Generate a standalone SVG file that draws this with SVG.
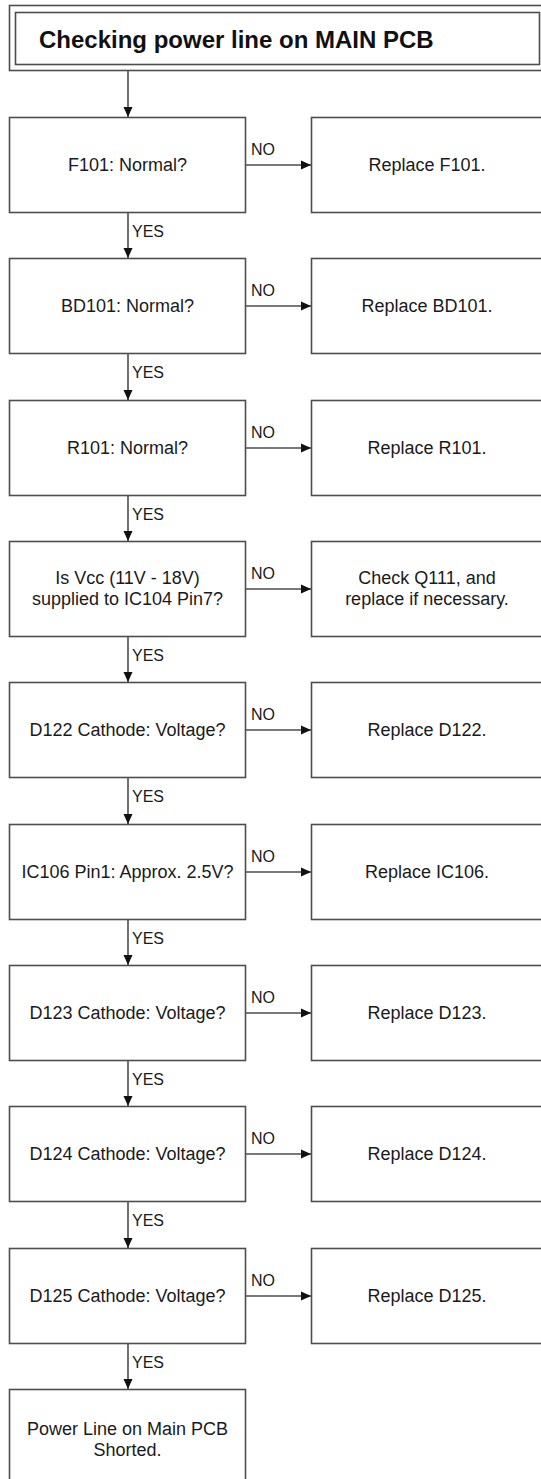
<svg xmlns="http://www.w3.org/2000/svg" width="541" height="1479" viewBox="0 0 541 1479">
<style>
.box{fill:#fff;stroke:#4d4d4d;stroke-width:1.6}
.t{font-family:"Liberation Sans",Arial,sans-serif;font-size:18px;fill:#1a1a1a;text-anchor:middle}
.title{font-family:"Liberation Sans",Arial,sans-serif;font-size:24px;font-weight:bold;fill:#111}
.lbl{font-family:"Liberation Sans",Arial,sans-serif;font-size:16px;fill:#1a1a1a}
.ln{stroke:#4d4d4d;stroke-width:1.6;fill:none}
</style>
<defs>
<marker id="ah" viewBox="0 0 10 10" refX="10" refY="5" markerWidth="10" markerHeight="10" markerUnits="userSpaceOnUse" orient="auto">
<path d="M0,0.5 L10,5 L0,9.5 Z" fill="#111"/>
</marker>
</defs>
<rect width="541" height="1479" fill="#fff"/>

<g id="title">
<rect class="box" x="9.5" y="5.5" width="545" height="65"/>
<rect class="box" x="15.5" y="12.5" width="524" height="52"/>
<text class="title" x="39" y="48">Checking power line on MAIN PCB</text>
</g>

<g id="n1"><rect class="box" x="9.5" y="117.5" width="236" height="95"/><text class="t" x="127.5" y="171">F101: Normal?</text></g>
<g id="r1"><rect class="box" x="311.5" y="117.5" width="240" height="95"/><text class="t" x="427" y="171">Replace F101.</text></g>

<g id="n2"><rect class="box" x="9.5" y="258.5" width="236" height="95"/><text class="t" x="127.5" y="312">BD101: Normal?</text></g>
<g id="r2"><rect class="box" x="311.5" y="258.5" width="240" height="95"/><text class="t" x="427" y="312">Replace BD101.</text></g>

<g id="n3"><rect class="box" x="9.5" y="400.5" width="236" height="95"/><text class="t" x="127.5" y="454">R101: Normal?</text></g>
<g id="r3"><rect class="box" x="311.5" y="400.5" width="240" height="95"/><text class="t" x="427" y="454">Replace R101.</text></g>

<g id="n4"><rect class="box" x="9.5" y="541.5" width="236" height="95"/><text class="t" x="127.5" y="584">Is Vcc (11V - 18V)</text><text class="t" x="127.5" y="605">supplied to IC104 Pin7?</text></g>
<g id="r4"><rect class="box" x="311.5" y="541.5" width="240" height="95"/><text class="t" x="427" y="584">Check Q111, and</text><text class="t" x="427" y="605">replace if necessary.</text></g>

<g id="n5"><rect class="box" x="9.5" y="682.5" width="236" height="95"/><text class="t" x="127.5" y="736">D122 Cathode: Voltage?</text></g>
<g id="r5"><rect class="box" x="311.5" y="682.5" width="240" height="95"/><text class="t" x="427" y="736">Replace D122.</text></g>

<g id="n6"><rect class="box" x="9.5" y="824.5" width="236" height="95"/><text class="t" x="127.5" y="878">IC106 Pin1: Approx. 2.5V?</text></g>
<g id="r6"><rect class="box" x="311.5" y="824.5" width="240" height="95"/><text class="t" x="427" y="878">Replace IC106.</text></g>

<g id="n7"><rect class="box" x="9.5" y="965.5" width="236" height="95"/><text class="t" x="127.5" y="1019">D123 Cathode: Voltage?</text></g>
<g id="r7"><rect class="box" x="311.5" y="965.5" width="240" height="95"/><text class="t" x="427" y="1019">Replace D123.</text></g>

<g id="n8"><rect class="box" x="9.5" y="1106.5" width="236" height="95"/><text class="t" x="127.5" y="1160">D124 Cathode: Voltage?</text></g>
<g id="r8"><rect class="box" x="311.5" y="1106.5" width="240" height="95"/><text class="t" x="427" y="1160">Replace D124.</text></g>

<g id="n9"><rect class="box" x="9.5" y="1248.5" width="236" height="95"/><text class="t" x="127.5" y="1302">D125 Cathode: Voltage?</text></g>
<g id="r9"><rect class="box" x="311.5" y="1248.5" width="240" height="95"/><text class="t" x="427" y="1302">Replace D125.</text></g>

<g id="n10"><rect class="box" x="9.5" y="1389.5" width="236" height="100"/><text class="t" x="127.5" y="1435">Power Line on Main PCB</text><text class="t" x="127.5" y="1456">Shorted.</text></g>

<g id="connectors">
<line class="ln" x1="128" y1="71" x2="128" y2="117" marker-end="url(#ah)"/>
<line class="ln" x1="245.5" y1="165" x2="311" y2="165" marker-end="url(#ah)"/>
<line class="ln" x1="128" y1="213" x2="128" y2="258" marker-end="url(#ah)"/>
<line class="ln" x1="245.5" y1="306" x2="311" y2="306" marker-end="url(#ah)"/>
<line class="ln" x1="128" y1="354" x2="128" y2="400" marker-end="url(#ah)"/>
<line class="ln" x1="245.5" y1="448" x2="311" y2="448" marker-end="url(#ah)"/>
<line class="ln" x1="128" y1="496" x2="128" y2="541" marker-end="url(#ah)"/>
<line class="ln" x1="245.5" y1="589" x2="311" y2="589" marker-end="url(#ah)"/>
<line class="ln" x1="128" y1="637" x2="128" y2="682" marker-end="url(#ah)"/>
<line class="ln" x1="245.5" y1="730" x2="311" y2="730" marker-end="url(#ah)"/>
<line class="ln" x1="128" y1="778" x2="128" y2="824" marker-end="url(#ah)"/>
<line class="ln" x1="245.5" y1="872" x2="311" y2="872" marker-end="url(#ah)"/>
<line class="ln" x1="128" y1="920" x2="128" y2="965" marker-end="url(#ah)"/>
<line class="ln" x1="245.5" y1="1013" x2="311" y2="1013" marker-end="url(#ah)"/>
<line class="ln" x1="128" y1="1061" x2="128" y2="1106" marker-end="url(#ah)"/>
<line class="ln" x1="245.5" y1="1154" x2="311" y2="1154" marker-end="url(#ah)"/>
<line class="ln" x1="128" y1="1202" x2="128" y2="1248" marker-end="url(#ah)"/>
<line class="ln" x1="245.5" y1="1296" x2="311" y2="1296" marker-end="url(#ah)"/>
<line class="ln" x1="128" y1="1344" x2="128" y2="1389" marker-end="url(#ah)"/>
<text class="lbl" x="251" y="155">NO</text>
<text class="lbl" x="251" y="296">NO</text>
<text class="lbl" x="251" y="438">NO</text>
<text class="lbl" x="251" y="579">NO</text>
<text class="lbl" x="251" y="720">NO</text>
<text class="lbl" x="251" y="862">NO</text>
<text class="lbl" x="251" y="1003">NO</text>
<text class="lbl" x="251" y="1144">NO</text>
<text class="lbl" x="251" y="1286">NO</text>
<text class="lbl" x="132" y="237">YES</text>
<text class="lbl" x="132" y="378">YES</text>
<text class="lbl" x="132" y="520">YES</text>
<text class="lbl" x="132" y="661">YES</text>
<text class="lbl" x="132" y="802">YES</text>
<text class="lbl" x="132" y="944">YES</text>
<text class="lbl" x="132" y="1085">YES</text>
<text class="lbl" x="132" y="1226">YES</text>
<text class="lbl" x="132" y="1368">YES</text>
</g>
</svg>
